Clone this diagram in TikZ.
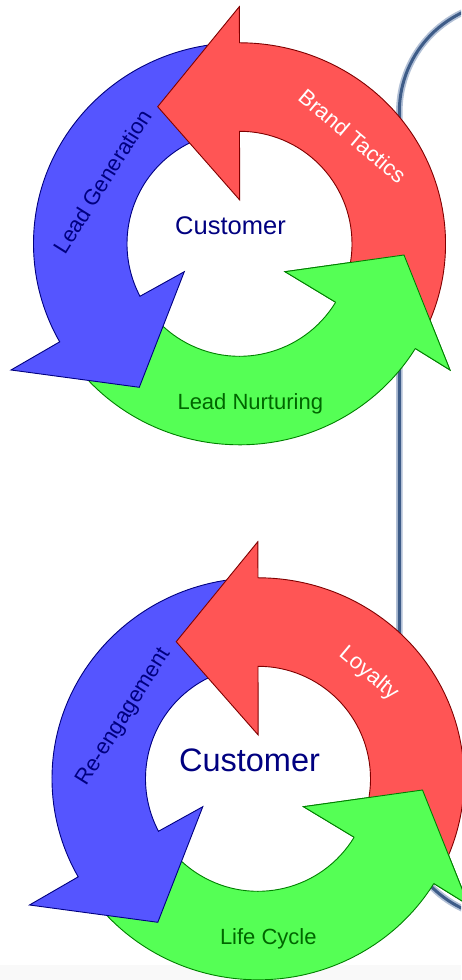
\documentclass[tikz,border=0pt]{standalone}
\usepackage{fontspec}
\setmainfont{Liberation Sans}

\definecolor{arBlue}{RGB}{85,85,255}
\definecolor{arBlueLine}{RGB}{0,0,128}
\definecolor{arRed}{RGB}{255,85,85}
\definecolor{arRedLine}{RGB}{128,0,0}
\definecolor{arGreen}{RGB}{85,255,85}
\definecolor{arGreenLine}{RGB}{0,128,0}
\definecolor{navyText}{RGB}{0,0,128}
\definecolor{greenText}{RGB}{0,102,0}
\definecolor{frameCore}{RGB}{62,92,136}
\definecolor{frameHalo}{RGB}{178,192,214}
\definecolor{stripGray}{RGB}{249,249,249}

\tikzset{
  arrowshape/.style={line width=0.9pt, line join=miter},
  bluearrow/.style={arrowshape, fill=arBlue, draw=arBlueLine},
  redarrow/.style={arrowshape, fill=arRed, draw=arRedLine},
  greenarrow/.style={arrowshape, fill=arGreen, draw=arGreenLine},
  lbl/.style={font=\fontsize{22}{26}\selectfont, inner sep=0pt,
    text height=15.8pt, text depth=0pt, anchor=center},
  hub/.style={inner sep=0pt, anchor=base, text=navyText},
}

% Three circular arrows around the origin; each head overlaps the next tail.
\newcommand\CycleArrows{%
  \path[greenarrow] (213:206pt and 201pt)
    arc[start angle=213, end angle=328.6, x radius=206pt, y radius=201pt]
    -- (210.5,-126.2) -- (164.5,-11.2) -- (45.5,-27.9) -- (328.7:112.5pt)
    arc[start angle=328.7, end angle=213, radius=112.5pt] -- cycle;
  \path[bluearrow] (94:206pt and 201pt)
    arc[start angle=94, end angle=209.2, x radius=206pt, y radius=201pt]
    -- (-228.5,-126.2) -- (-100.2,-143.5) -- (-55.2,-27.9) -- (207.8:112.5pt)
    arc[start angle=207.8, end angle=94, radius=112.5pt] -- cycle;
  \path[redarrow] (-27:206pt and 201pt)
    arc[start angle=-27, end angle=90, x radius=206pt, y radius=201pt]
    -- (-0.2,237.1) -- (-81.8,137.1) -- (0.2,43.8) -- (90:112.5pt)
    arc[start angle=90, end angle=-27, radius=112.5pt] -- cycle;
  % green head laid again over the red tail
  \fill[arGreen] (328.6:206pt and 201pt) -- (210.5,-126.2) -- (164.5,-11.2)
    -- (45.5,-27.9) -- (328.7:112.5pt) -- cycle;
  \draw[arrowshape, draw=arGreenLine] (328.6:206pt and 201pt) -- (210.5,-126.2)
    -- (164.5,-11.2) -- (45.5,-27.9) -- (328.7:112.5pt);
}

\begin{document}
\begin{tikzpicture}[x=1pt, y=1pt]
  \useasboundingbox (0,0) rectangle (461,980);
  \fill[white] (0,0) rectangle (461,980);
  \fill[stripGray] (0,0) rectangle (461,15);

  % rounded frame running off the right edge
  \begin{scope}
    \clip (0,0) rectangle (461,980);
    \draw[frameHalo, line width=6.5pt, rounded corners=110pt] (399.3,61) rectangle (800,978);
    \draw[frameCore, line width=3pt, rounded corners=110pt] (399.3,61) rectangle (800,978);
  \end{scope}

  % upper cycle
  \begin{scope}[shift={(239.5,736.2)}]
    \CycleArrows
    \node[lbl, text=navyText, rotate=58] (gen) at (-137,62.3) {Lead Generation};
    \node[lbl, text=white, rotate=-40] (brand) at (113,107.8) {Brand Tactics};
    \node[lbl, anchor=base, text=greenText] (nurt) at (10.8,-166.2) {Lead Nurturing};
    \node[hub, font=\fontsize{25.5}{30}\selectfont] (cust1) at (-9,8.8) {Customer};
  \end{scope}

  % lower cycle
  \begin{scope}[shift={(258,201.2)}]
    \CycleArrows
    \node[lbl, text=navyText, rotate=58] (reeng) at (-136,63) {Re-engagement};
    \node[lbl, text=white, rotate=-40] (loyal) at (112,106.5) {Loyalty};
    \node[lbl, anchor=base, text=greenText] (life) at (10.3,-166.2) {Life Cycle};
    \node[hub, font=\fontsize{32.5}{38}\selectfont] (cust2) at (-8.5,6.8) {Customer};
  \end{scope}
\end{tikzpicture}
\end{document}
